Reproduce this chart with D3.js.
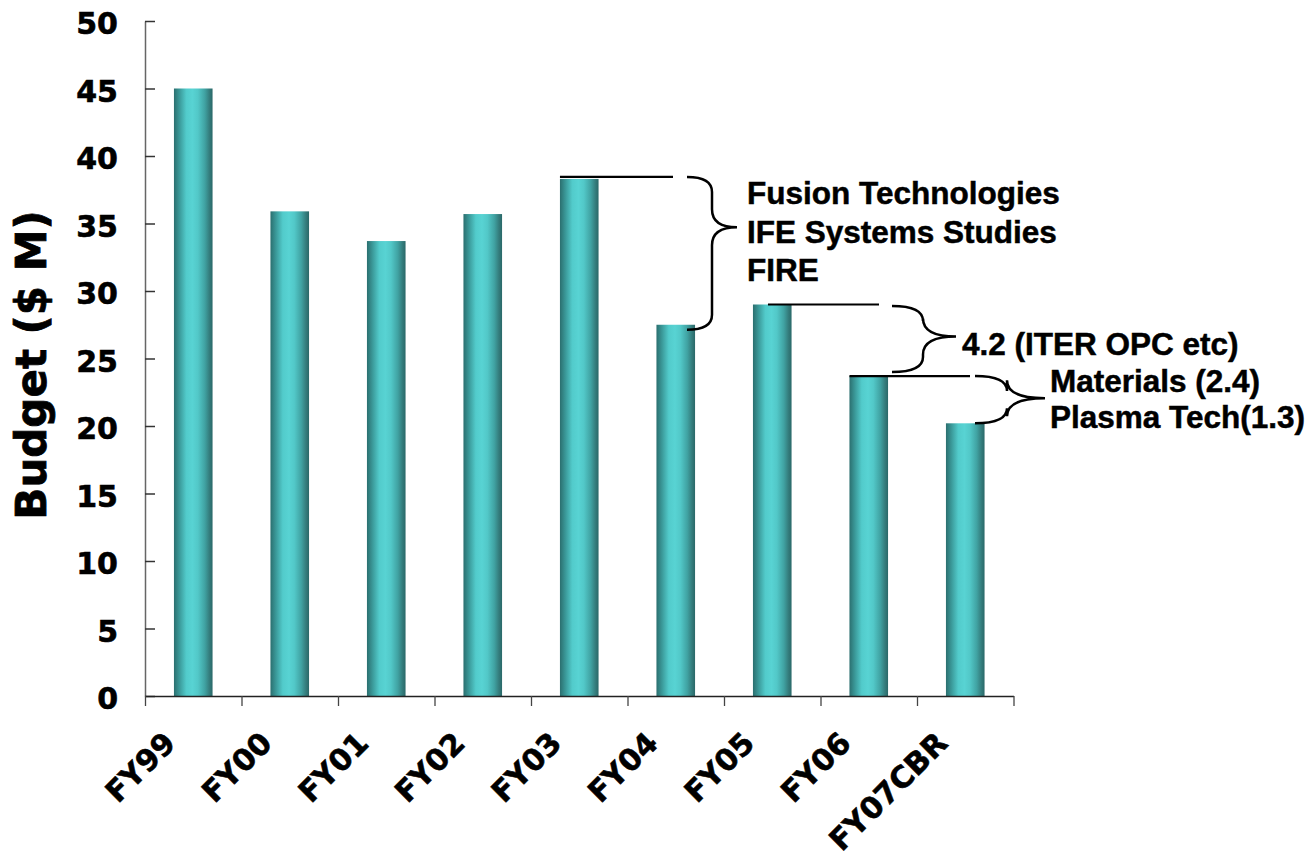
<!DOCTYPE html>
<html>
<head>
<meta charset="utf-8">
<script src="https://cdn.jsdelivr.net/npm/d3@7"></script>
<style>
  html, body { margin: 0; padding: 0; background: #ffffff; }
  svg { display: block; }
</style>
</head>
<body>
<script>
// ---- data ----
const categories = ["FY99", "FY00", "FY01", "FY02", "FY03", "FY04", "FY05", "FY06", "FY07CBR"];
const budget = [45.0, 35.9, 33.7, 35.7, 38.3, 27.5, 29.0, 23.7, 20.2];
const yTicks = [0, 5, 10, 15, 20, 25, 30, 35, 40, 45, 50];
const yTitle = "Budget ($ M)";
const annotFrom = ["FY03", "FY05", "FY06"];
const annotTo = ["FY04", "FY06", "FY07CBR"];
const annotLabels = [
  ["Fusion Technologies", "IFE Systems Studies", "FIRE"],
  ["4.2 (ITER OPC etc)"],
  ["Materials (2.4)", "Plasma Tech(1.3)"]
];

// ---- layout ----
const W = 1315, H = 858;
const svg = d3.select("body").append("svg").attr("width", W).attr("height", H);

const x = d3.scaleBand().domain(categories).range([145, 1013.5]).paddingInner(0.6).paddingOuter(0.3);
const y = d3.scaleLinear().domain([0, 50]).range([696, 21]);
const valueOf = c => budget[categories.indexOf(c)];

// gradient for cylinder-like bars
const defs = svg.append("defs");
const grad = defs.append("linearGradient").attr("id", "barGrad").attr("x1", "0%").attr("x2", "100%").attr("y1", "0%").attr("y2", "0%");
[["0%", "#2b6f6f"], ["14%", "#3a9898"], ["32%", "#52cbcb"], ["48%", "#58d3d3"], ["62%", "#52c8c8"], ["80%", "#40a2a2"], ["92%", "#347c7c"], ["100%", "#2a6868"]]
  .forEach(s => grad.append("stop").attr("offset", s[0]).attr("stop-color", s[1]));

// bars
svg.append("g").selectAll("rect").data(categories).join("rect")
  .attr("x", d => x(d))
  .attr("y", (d, i) => y(budget[i]))
  .attr("width", x.bandwidth())
  .attr("height", (d, i) => y(0) - y(budget[i]))
  .attr("fill", "url(#barGrad)");

const verdanaLike = "'DejaVu Sans', Verdana, sans-serif";

// y axis
const yAxis = svg.append("g").attr("transform", `translate(${x.range()[0]},0)`)
  .call(d3.axisLeft(y).tickValues(yTicks).tickSize(-10).tickSizeOuter(0).tickPadding(27));
yAxis.select(".domain").attr("stroke", "#666").attr("stroke-width", 1.5);
yAxis.selectAll(".tick line").attr("stroke", "#333").attr("stroke-width", 1.5);
yAxis.selectAll(".tick text")
  .attr("font-family", verdanaLike)
  .attr("font-weight", "bold").attr("font-size", 30).attr("fill", "#000")
  .attr("stroke", "#000").attr("stroke-width", 0.6)
  .attr("dy", "0.42em");

// x axis (ticks on band boundaries)
const xb = d3.scaleLinear().domain([0, categories.length]).range(x.range());
const xAxis = svg.append("g").attr("transform", `translate(0,${y(0)})`)
  .call(d3.axisBottom(xb).tickValues(d3.range(categories.length + 1)).tickFormat("").tickSize(10).tickSizeOuter(0));
xAxis.select(".domain").attr("stroke", "#222").attr("stroke-width", 1.5);
xAxis.selectAll(".tick line").attr("stroke", "#444").attr("stroke-width", 1.3);

// x labels rotated
svg.append("g").selectAll("text").data(categories).join("text")
  .attr("transform", d => `translate(${x(d) + x.bandwidth() / 2 - 16},745) rotate(-45)`)
  .attr("text-anchor", "end")
  .attr("font-family", verdanaLike)
  .attr("font-weight", "bold").attr("font-size", 30).attr("fill", "#000")
  .attr("stroke", "#000").attr("stroke-width", 0.6)
  .text(d => d);

// y title
svg.append("text")
  .attr("transform", `translate(46,365) rotate(-90)`)
  .attr("text-anchor", "middle")
  .attr("font-family", verdanaLike)
  .attr("font-weight", "bold").attr("font-size", 42).attr("fill", "#000")
  .attr("stroke", "#000").attr("stroke-width", 0.8)
  .text(yTitle);

// ---- annotations ----
const annotLayout = [
  { lineX0: 0, lineX1: 673, lineDy: -2, bx0: 687, bxv: 712, bxt: 737, topDy: -2, botDy: 5, tipFrac: 0.33, tx: 747, ty: 204, lh: 38.5 },
  { lineX0: 15, lineX1: 879, lineDy: 0, bx0: 892, bxv: 923, bxt: 956, topDy: 1.5, botDy: -4, tipFrac: 0.46, tx: 962, ty: 355, lh: 37 },
  { lineX0: 0, lineX1: 970, lineDy: 0, bx0: 975, bxv: 1007, bxt: 1045, topDy: 0, botDy: 0, tipFrac: 0.47, tx: 1050, ty: 392, lh: 36 }
];

function bracePath(x0, xv, xt, yt, ym, yb) {
  const r = 15, r2 = 18;
  return `M${x0},${yt} Q${xv},${yt} ${xv},${yt + r} L${xv},${ym - r2} Q${xv},${ym} ${xt},${ym}` +
         ` M${xt},${ym} Q${xv},${ym} ${xv},${ym + r2} L${xv},${yb - r} Q${xv},${yb} ${x0},${yb}`;
}

const ag = svg.append("g");
annotFrom.forEach((f, i) => {
  const L = annotLayout[i];
  const yTop = y(valueOf(f));
  const yBot = y(valueOf(annotTo[i]));
  // horizontal reference line from the bar top
  ag.append("line")
    .attr("x1", x(f) + L.lineX0).attr("x2", L.lineX1)
    .attr("y1", yTop + L.lineDy).attr("y2", yTop + L.lineDy)
    .attr("stroke", "#000").attr("stroke-width", 2.2);
  const bt = yTop + L.topDy, bb = yBot + L.botDy;
  const bm = bt + (bb - bt) * L.tipFrac;
  ag.append("path").attr("d", bracePath(L.bx0, L.bxv, L.bxt, bt, bm, bb))
    .attr("fill", "none").attr("stroke", "#000").attr("stroke-width", 2.5);
  const t = ag.append("text")
    .attr("font-family", "'Liberation Sans', Arial, sans-serif")
    .attr("font-weight", "bold").attr("font-size", 31.5).attr("fill", "#000")
    .attr("stroke", "#000").attr("stroke-width", 0.5);
  annotLabels[i].forEach((s, k) => {
    t.append("tspan").attr("x", L.tx).attr("y", L.ty + k * L.lh).text(s);
  });
});
</script>
</body>
</html>
